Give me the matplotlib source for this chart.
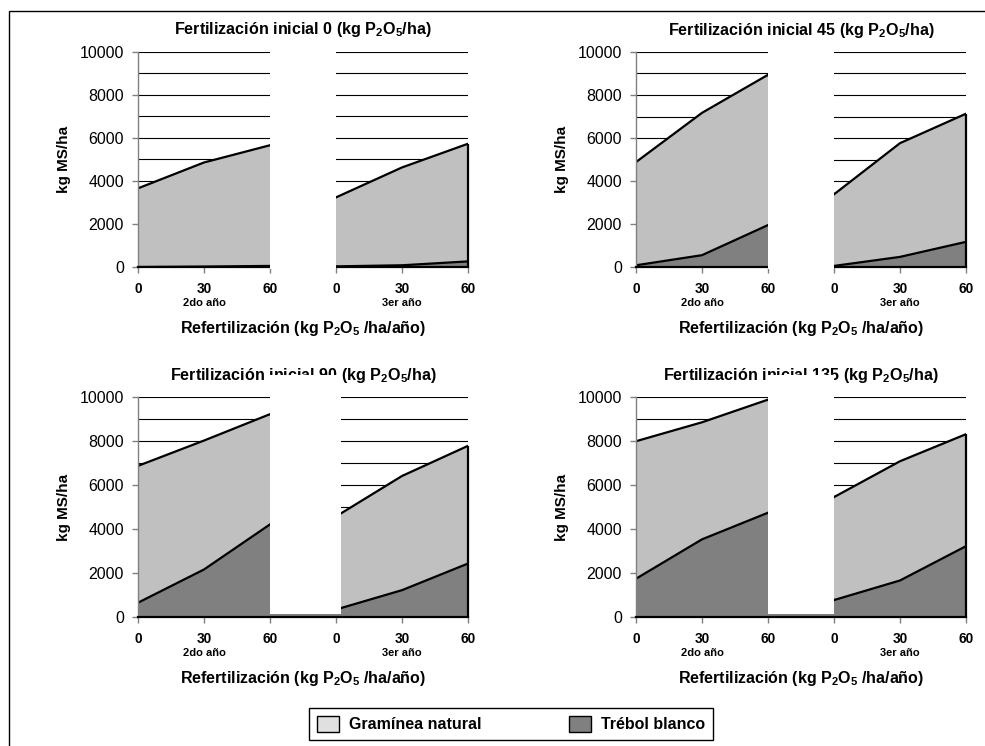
import matplotlib
matplotlib.use('Agg')
import matplotlib.pyplot as plt
from matplotlib.patches import Rectangle, Patch

plt.rcParams['font.family'] = ['Liberation Sans', 'DejaVu Sans']
plt.rcParams['mathtext.fontset'] = 'custom'
plt.rcParams['mathtext.rm'] = 'Liberation Sans:bold'
plt.rcParams['mathtext.bf'] = 'Liberation Sans:bold'
plt.rcParams['mathtext.default'] = 'bf'

# ---------------- data ----------------
refert_labels = ['0', '30', '60', '0', '30', '60']   # 2do año (0,30,60) | 3er año (0,30,60)
year_labels = ['2do año', '3er año']
initial_fert = ['0', '45', '90', '135']

graminea_0 = [3650, 4830, 5600, 3200, 4540, 5460]
trebol_0 = [0, 20, 50, 30, 80, 260]
graminea_45 = [4800, 6620, 6990, 3330, 5290, 5960]
trebol_45 = [80, 550, 1950, 50, 470, 1170]
graminea_90 = [6220, 5860, 5010, 4230, 5190, 5350]
trebol_90 = [650, 2160, 4210, 340, 1220, 2430]
graminea_135 = [6250, 5320, 5140, 4680, 5420, 5090]
trebol_135 = [1740, 3530, 4740, 770, 1660, 3220]

graminea = [graminea_0, graminea_45, graminea_90, graminea_135]
trebol = [trebol_0, trebol_45, trebol_90, trebol_135]

# ---------------- layout ----------------
W, H = 985, 746
fig = plt.figure(figsize=(W / 100, H / 100), dpi=100)

# axes boxes in pixels: left, top, right, bottom
boxes = [(138, 51.5, 468, 267), (636, 52, 966, 267),
         (138, 397, 468, 617), (636, 397, 966, 617)]
# white cover over the gap between the two years: x0, x1, y0, y1 (data units)
covers = [(2, 3, -70, 10100), (2, 3, -70, 10100),
          (2, 3.08, 150, 11000), (2, 3, 150, 11000)]

light = '#c0c0c0'
dark = '#808080'
x = list(range(len(refert_labels)))

for i in range(4):
    l, t, r, b = boxes[i]
    ax = fig.add_axes([l / W, 1 - b / H, (r - l) / W, (b - t) / H])
    g = graminea[i]
    tr = trebol[i]
    tot = [a + c for a, c in zip(g, tr)]

    # gridlines
    ax.hlines(range(1000, 10001, 1000), 0, 5, color='black', lw=0.8, zorder=0.5)
    ax.stackplot(x, tr, g, colors=[dark, light], zorder=1, lw=0)
    ax.plot(x, tot, color='black', lw=1.6, zorder=2, solid_joinstyle='miter')
    ax.plot(x, tr, color='black', lw=1.6, zorder=2, solid_joinstyle='miter')
    ax.vlines(x[-1], 0, tot[-1], color='black', lw=1.6, zorder=2, clip_on=False)

    cx0, cx1, cy0, cy1 = covers[i]
    ax.add_patch(Rectangle((cx0, cy0), cx1 - cx0, cy1 - cy0, facecolor='white',
                           edgecolor='none', zorder=4, clip_on=False))

    ax.set_xlim(0, 5)
    ax.set_ylim(0, 10000)
    ax.set_xticks(x)
    ax.set_xticklabels(refert_labels, fontsize=9.8, fontweight='bold')
    ax.set_yticks(range(0, 10001, 2000))
    ax.set_yticklabels([str(v) for v in range(0, 10001, 2000)], fontsize=11.5)
    ax.tick_params(axis='both', direction='out', length=4, width=1, color='#808080')
    ax.tick_params(axis='x', pad=7)
    ax.tick_params(axis='y', pad=6)
    for s in ['top', 'right']:
        ax.spines[s].set_visible(False)
    ax.spines['left'].set_color('#808080')
    ax.spines['left'].set_linewidth(1.0)
    ax.spines['bottom'].set_color('black')
    ax.spines['bottom'].set_linewidth(1.6)

    ax.set_ylabel('kg MS/ha', fontsize=11, fontweight='bold', labelpad=6)

    ax.annotate('Fertilización inicial %s (kg P$_2$O$_5$/ha)' % initial_fert[i],
                xy=(0.5, 1), xycoords='axes fraction', xytext=(0, 15.5),
                textcoords='offset points', ha='center', va='center',
                fontsize=11.6, fontweight='bold', zorder=3)
    for k, yl in enumerate(year_labels):
        ax.annotate(yl, xy=(1 + 3 * k, 0), xycoords=('data', 'axes fraction'),
                    xytext=(0, -26), textcoords='offset points', ha='center',
                    va='center', fontsize=8, fontweight='bold')
    ax.annotate('Refertilización (kg P$_2$O$_5$ /ha/año)', xy=(0.5, 0),
                xycoords='axes fraction', xytext=(0, -44), textcoords='offset points',
                ha='center', va='center', fontsize=11.5, fontweight='bold')

# legend
handles = [Patch(facecolor='#e0e0e0', edgecolor='black', lw=1, label='Gramínea natural'),
           Patch(facecolor=dark, edgecolor='black', lw=1, label='Trébol blanco')]
leg = fig.legend(handles=handles, loc='center',
                 bbox_to_anchor=(309 / W, 1 - 741 / H, 404 / W, 34 / H), mode='expand',
                 borderaxespad=0,
                 ncol=2, frameon=True, fancybox=False, edgecolor='black', framealpha=1,
                 prop=dict(weight='bold', size=11.5), handlelength=1.4, handleheight=1.15,
                 handletextpad=0.6, columnspacing=3.0, borderpad=0.5)
leg.get_frame().set_linewidth(1.0)

# outer frame
fig.patches.append(Rectangle((9 / W, -0.1), 1.2, (H - 11) / H + 0.1, transform=fig.transFigure,
                             facecolor='none', edgecolor='black', lw=1.0, zorder=10))

fig.savefig('out.png', dpi=100)
